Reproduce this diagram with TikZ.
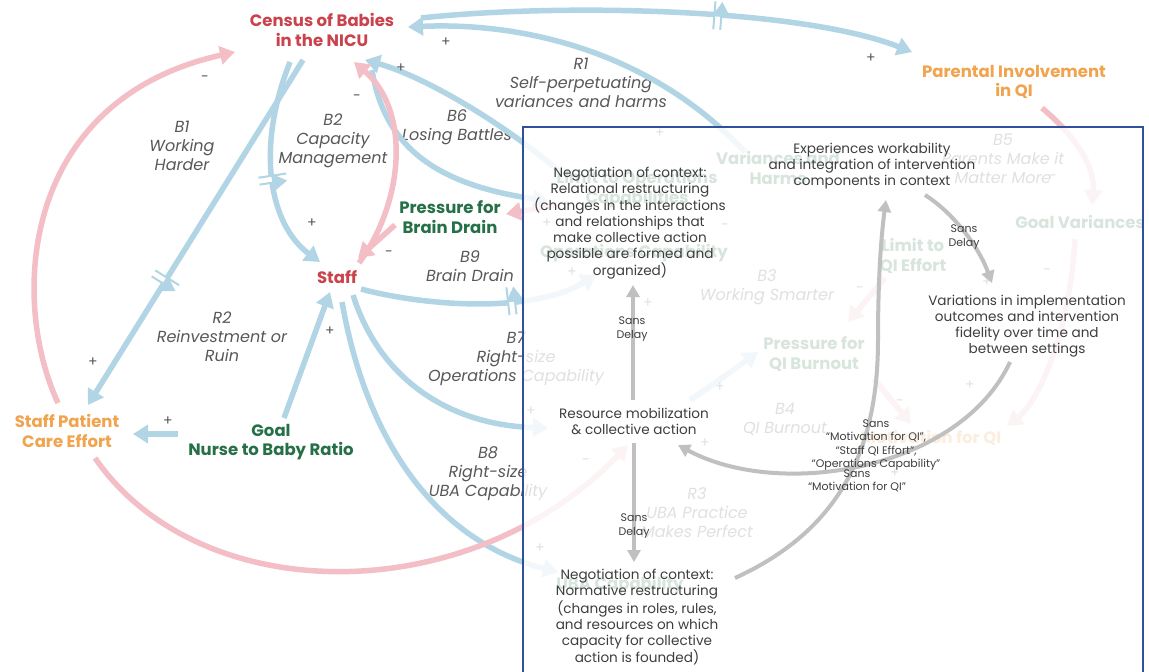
\documentclass[tikz,border=0pt]{standalone}
\usepackage{fontspec}
\setmainfont{Poppins}
\usetikzlibrary{arrows.meta,decorations.markings,calc}
\definecolor{bl}{RGB}{178,213,229}
\definecolor{pk}{RGB}{243,190,198}
\definecolor{redt}{RGB}{201,66,76}
\definecolor{oranget}{RGB}{241,163,78}
\definecolor{greent}{RGB}{38,112,72}
\definecolor{labg}{RGB}{88,88,88}
\definecolor{boxb}{RGB}{47,80,155}
\definecolor{boxt}{RGB}{62,62,62}
\definecolor{ga}{RGB}{192,192,192}
\pgfdeclarelayer{under}
\pgfdeclarelayer{veil}
\pgfsetlayers{under,veil,main}
\tikzset{
  vtx/.style={font=\fontsize{16.5}{19.5}\selectfont\bfseries, align=center, inner sep=0pt},
  vred/.style={vtx, text=redt},
  vorg/.style={vtx, text=oranget},
  vgrn/.style={vtx, text=greent},
  loopl/.style={font=\fontsize{16}{19}\selectfont\itshape, text=labg, align=center, inner sep=0pt},
  sgn/.style={font=\fontsize{14}{14}\selectfont, text=labg, inner sep=0pt},
  lnk/.style={line width=5.5pt, -{Triangle[width=18pt,length=15pt]}},
  blnk/.style={lnk, draw=bl},
  plnk/.style={lnk, draw=pk},
  btxt/.style={font=\fontsize{13.6}{16}\selectfont, text=boxt, align=center, inner sep=0pt},
  stxt/.style={font=\fontsize{11}{13.3}\selectfont, text=boxt, align=center, inner sep=0pt},
  garr/.style={draw=ga, line width=4pt, -{Triangle[width=13pt,length=12pt]}},
  delaybar/.style 2 args={postaction={decorate,decoration={markings,mark=at position #1 with {\fill[white] (-3.5pt,-14pt) rectangle (3.5pt,14pt); \draw[draw=#2,line width=2pt] (-3.5pt,-14pt)--(-3.5pt,14pt) (3.5pt,-14pt)--(3.5pt,14pt);}}}}
}
\begin{document}
\begin{tikzpicture}[x=1pt,y=-1pt]
\useasboundingbox (0,0) rectangle (1149,672);

% ---------- box content nodes (top layer) ----------
\node[btxt] (rel) at (630,223) {Negotiation of context:\\Relational restructuring\\(changes in the interactions\\and relationships that\\make collective action\\possible are formed and\\organized)};
\node[btxt] (exp) at (872,166) {Experiences workability\\and integration of intervention\\components in context};
\node[btxt] (var) at (1027,326) {Variations in implementation\\outcomes and intervention\\fidelity over time and\\between settings};
\node[btxt] (res) at (634,421) {Resource mobilization\\\& collective action};
\node[btxt] (norm) at (637,617) {Negotiation of context:\\Normative restructuring\\(changes in roles, rules,\\and resources on which\\capacity for collective\\action is founded)};

% ---------- underlying diagram ----------
\begin{pgfonlayer}{under}
\fill[white] (0,0) rectangle (1149,672);
\node[vred] (census) at (322,30) {Census of Babies\\in the NICU};
\node[vorg] (parental) at (1014,82) {Parental Involvement\\in QI};
\node[vred] (staff) at (337,277) {Staff};
\node[vgrn] (pbd) at (450,217) {Pressure for\\Brain Drain};
\node[vorg] (spce) at (67,431) {Staff Patient\\Care Effort};
\node[vgrn] (goal) at (271,442) {Goal\\Nurse to Baby Ratio};
\node[vgrn] (vah) at (778,168) {Variances and\\Harms};
\node[vgrn] (lto) at (637,189) {Limit to Operations\\Capabilities};
\node[vgrn] (opc) at (634,253) {Operations Capability};
\node[vgrn] (ltq) at (913,256) {Limit to\\QI Effort};
\node[vgrn] (gv) at (1080,222) {Goal Variances};
\node[vgrn] (pqb) at (814,354) {Pressure for\\QI Burnout};
\node[vorg] (mfq) at (931,438) {Motivation for QI};
\node[vgrn] (ubac) at (620,585) {UBA Capability};

\node[loopl] (lb1) at (182,146) {B1\\Working\\Harder};
\node[loopl] (lb2) at (333,141) {B2\\Capacity\\Management};
\node[loopl] (lb6) at (457,127) {B6\\Losing Battles};
\node[loopl] (lr1) at (581,83) {R1\\Self-perpetuating\\variances and harms};
\node[loopl] (lb9) at (470,266) {B9\\Brain Drain};
\node[loopl] (lr2) at (222,337) {R2\\Reinvestment or\\Ruin};
\node[loopl] (lb7) at (516,359) {B7\\Right-size\\Operations Capability};
\node[loopl] (lb8) at (488,474) {B8\\Right-size\\UBA Capability};
\node[loopl] (lb3) at (767,287) {B3\\Working Smarter};
\node[loopl] (lb4) at (785,419) {B4\\QI Burnout};
\node[loopl] (lr3) at (697,513) {R3\\UBA Practice\\Makes Perfect};
\node[loopl] (lb5) at (1003,159) {B5\\Parents Make it\\Matter More};

% blue links
\draw[blnk, delaybar={0.64}{bl}] ($(census)+(-19,30)$) -- ($(spce)+(21,-26)$);
\draw[blnk, delaybar={0.55}{bl}] ($(census)+(-32,32)$) .. controls (255,150) and (270,225) .. ($(staff)+(-17,-15)$);
\draw[blnk] ($(goal)+(13,-24)$) -- ($(staff)+(-7,15)$);
\draw[blnk] ($(goal)+(-93,-8)$) -- ($(spce)+(66,3)$);
\draw[blnk, delaybar={0.63}{bl}] ($(staff)+(24,12)$) .. controls (420,305) and (530,315) .. ($(opc)+(-38,22)$);
\draw[blnk] ($(staff)+(16,18)$) .. controls (380,380) and (450,425) .. ($(res)+(-86,7)$);
\draw[blnk] ($(staff)+(5,25)$) .. controls (370,460) and (450,545) .. ($(ubac)+(-62,-13)$);
\draw[blnk, delaybar={0.6}{bl}] ($(census)+(99,-12)$) .. controls (560,3) and (800,8) .. ($(parental)+(-102,-30)$);
\draw[blnk] ($(vah)+(-33,-16)$) .. controls (650,50) and (520,22) .. ($(census)+(86,-3)$);
\draw[blnk] ($(lto)+(-77,-17)$) .. controls (500,120) and (420,75) .. ($(census)+(43,30)$);
\draw[blnk] ($(census)+(50,40)$) .. controls (385,150) and (440,185) .. ($(lto)+(-89,12)$);
\draw[blnk] ($(res)+(56,-21)$) .. controls (720,380) and (740,365) .. ($(pqb)+(-56,-2)$);

% pink links
\draw[plnk] ($(spce)+(-9,-28)$) .. controls (10,300) and (20,100) .. ($(census)+(-87,22)$);
\draw[plnk] ($(staff)+(22,-14)$) .. controls (405,200) and (410,110) .. ($(census)+(32,32)$);
\draw[plnk] ($(spce)+(28,27)$) .. controls (200,610) and (470,610) .. ($(res)+(-6,24)$);
\draw[plnk] ($(pbd)+(-55,8)$) -- ($(staff)+(21,-19)$);
\draw[plnk] ($(lto)+(-80,16)$) -- ($(pbd)+(56,-3)$);
\draw[plnk] ($(parental)+(28,26)$) .. controls (1080,140) and (1095,170) .. ($(gv)+(12,-17)$);
\draw[plnk] ($(gv)+(-5,17)$) .. controls (1070,330) and (1040,400) .. ($(mfq)+(76,-12)$);
\draw[plnk] ($(ltq)+(-28,22)$) -- ($(pqb)+(34,-32)$);
\draw[plnk] ($(pqb)+(60,25)$) -- ($(mfq)+(-20,-14)$);

% signs
\foreach \p/\s in {{(205,79)}/-, {(357,98)}/-, {(312,223)}/+, {(93,362)}/+, {(168,421)}/+, {(330,331)}/+, {(389,254)}/-, {(446,42)}/+, {(401,68)}/+, {(871,58)}/+, {(540,548)}/+, {(531,411)}/+, {(660,133)}/+, {(547,223)}/+, {(725,227)}/-, {(572,272)}/+, {(720,387)}/+, {(860,290)}/-, {(987,282)}/+, {(1047,272)}/-, {(970,385)}/+, {(900,403)}/-, {(895,473)}/+, {(586,462)}/-, {(1053,178)}/-, {(648,303)}/+, {(705,443)}/+}
  \node[sgn] at \p {\s};
\end{pgfonlayer}

% ---------- veil over the box ----------
\begin{pgfonlayer}{veil}
\fill[white, opacity=0.82] (523,127) rectangle (1149,680);
\end{pgfonlayer}

\draw[boxb, line width=2.2pt] (523,127) rectangle (1143,700);

% ---------- box links ----------
\draw[garr] ($(res)+(-1,-21)$) -- ($(rel)+(3,62)$);
\draw[garr] ($(res)+(0,22)$) -- ($(norm)+(-3,-55)$);
\draw[garr] ($(norm)+(98,-39)$) .. controls (840,530) and (878,450) .. (878,340) .. controls (878,270) and (882,230) .. ($(exp)+(14,34)$);
\draw[garr] ($(exp)+(53,29)$) .. controls (952,212) and (978,245) .. ($(var)+(-35,-43)$);
\draw[garr] ($(var)+(-17,36)$) .. controls (960,470) and (780,500) .. ($(res)+(44,24)$);

\node[stxt] (sd1) at (632,329) {Sans\\Delay};
\node[stxt] (sd2) at (634,526) {Sans\\Delay};
\node[stxt] (sd3) at (964,237) {Sans\\Delay};
\node[stxt] (m1) at (876,445) {Sans\\``Motivation for QI'',\\``Staff QI Effort'',\\``Operations Capability''};
\node[stxt] (m2) at (857,480.5) {Sans\\``Motivation for QI''};
\end{tikzpicture}
\end{document}
